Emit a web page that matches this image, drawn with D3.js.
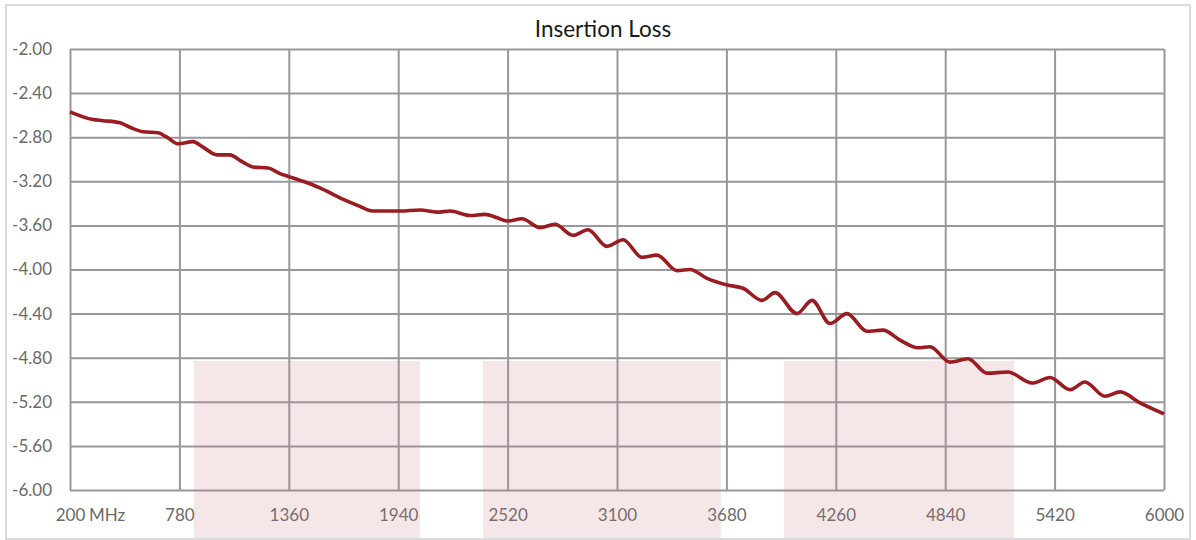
<!DOCTYPE html>
<html>
<head>
<meta charset="utf-8">
<script src="https://cdn.jsdelivr.net/npm/d3@7"></script>
<style>
  body { margin: 0; background: #fff; }
  svg { display: block; font-family: Lato, "Open Sans", sans-serif; }
</style>
</head>
<body>
<main></main>
<script>
// frequency (MHz) and insertion loss (dB)
let freqs = [200, 322, 375, 465, 518, 587, 667, 714, 773, 852, 905, 979, 1048, 1101, 1170, 1250,
  1313, 1366, 1435, 1525, 1631, 1727, 1806, 1950, 2056, 2146, 2215, 2321, 2400, 2464, 2517, 2596,
  2692, 2771, 2867, 2946, 3047, 3132, 3233, 3312, 3418, 3487, 3577, 3683, 3768, 3869, 3938, 4054,
  4134, 4229, 4319, 4425, 4510, 4600, 4696, 4759, 4865, 4961, 5062, 5173, 5300, 5396, 5502, 5581,
  5687, 5767, 5873, 6000]
let loss = [-2.57, -2.64, -2.65, -2.67, -2.71, -2.75, -2.76, -2.80, -2.86, -2.84, -2.89, -2.96, -2.96, -3.01, -3.07, -3.08,
  -3.13, -3.16, -3.20, -3.26, -3.35, -3.42, -3.47, -3.47, -3.46, -3.48, -3.47, -3.51, -3.50, -3.53, -3.56, -3.54,
  -3.62, -3.59, -3.69, -3.64, -3.79, -3.73, -3.89, -3.87, -4.01, -4.00, -4.08, -4.14, -4.17, -4.28, -4.21, -4.40,
  -4.28, -4.49, -4.40, -4.56, -4.55, -4.64, -4.71, -4.70, -4.84, -4.81, -4.94, -4.93, -5.03, -4.98, -5.09, -5.02,
  -5.15, -5.11, -5.21, -5.31]

// shaded bands (MHz) and the level their top sits at
let bandStart = [857, 2390, 3985]
let bandEnd = [2055, 3650, 5205]
let bandTop = -4.83

let xTicks = [200, 780, 1360, 1940, 2520, 3100, 3680, 4260, 4840, 5420, 6000]
let yTicks = [-2.0, -2.4, -2.8, -3.2, -3.6, -4.0, -4.4, -4.8, -5.2, -5.6, -6.0]

let W = 1196, H = 540
let margin = {top: 49, right: 32, bottom: 50, left: 70}
let plotW = W - margin.left - margin.right
let plotH = H - margin.top - margin.bottom
let gridColor = '#98989c'
let textColor = '#6a6a6a'
let labelSize = '17px'

let svg = d3.select('main')
  .append('svg')
  .attr('width', W)
  .attr('height', H)

// outer frame
svg.append('rect')
  .attr('x', 6).attr('y', 5)
  .attr('width', 1184).attr('height', 534)
  .attr('fill', '#fff')
  .attr('stroke', '#cfcfcf')
  .attr('stroke-width', 1.5)

let x = d3.scaleLinear()
  .domain([200, 6000])
  .range([margin.left, margin.left + plotW])

let y = d3.scaleLinear()
  .domain([-6, -2])
  .range([margin.top + plotH, margin.top])

// axes with gridlines (plain hyphen for the minus sign)
let xAxis = svg.append('g')
  .attr('transform', `translate(0, ${margin.top + plotH})`)
  .call(d3.axisBottom(x).tickValues(xTicks).tickSize(-plotH).tickPadding(19).tickFormat(d => String(d)))

let yAxis = svg.append('g')
  .attr('transform', `translate(${margin.left}, 0)`)
  .call(d3.axisLeft(y).tickValues(yTicks).tickSize(-plotW).tickPadding(18).tickFormat(d => d.toFixed(2)))

svg.selectAll('.domain').remove()
svg.selectAll('.tick line')
  .attr('stroke', gridColor)
  .attr('stroke-width', 2)
svg.selectAll('.tick text')
  .attr('fill', textColor)
  .style('font-size', labelSize)
  .style('font-family', 'Lato, "Open Sans", sans-serif')

// unit after the first x label
svg.append('text')
  .attr('x', x(200) + 19)
  .attr('y', margin.top + plotH + 19)
  .attr('dy', '0.71em')
  .attr('fill', textColor)
  .style('font-size', labelSize)
  .text('MHz')

// shaded bands
svg.append('g')
  .selectAll('rect')
  .data(bandStart.map((s, i) => ({s, e: bandEnd[i]})))
  .enter()
  .append('rect')
  .attr('x', d => x(d.s))
  .attr('y', y(bandTop))
  .attr('width', d => x(d.e) - x(d.s))
  .attr('height', 538 - y(bandTop))
  .attr('fill', 'rgb(200,120,125)')
  .attr('fill-opacity', 0.18)

// insertion loss curve
let line = d3.line()
  .x(d => x(d[0]))
  .y(d => y(d[1]))
  .curve(d3.curveMonotoneX)

svg.append('path')
  .datum(freqs.map((f, i) => [f, loss[i]]))
  .attr('d', line)
  .attr('fill', 'none')
  .attr('stroke', '#9b1c20')
  .attr('stroke-width', 3.6)
  .attr('stroke-linejoin', 'round')

// title
svg.append('text')
  .attr('x', 603)
  .attr('y', 37)
  .attr('text-anchor', 'middle')
  .attr('fill', '#1a1a1a')
  .style('font-size', '22.5px')
  .text('Insertion Loss')
</script>
</body>
</html>
